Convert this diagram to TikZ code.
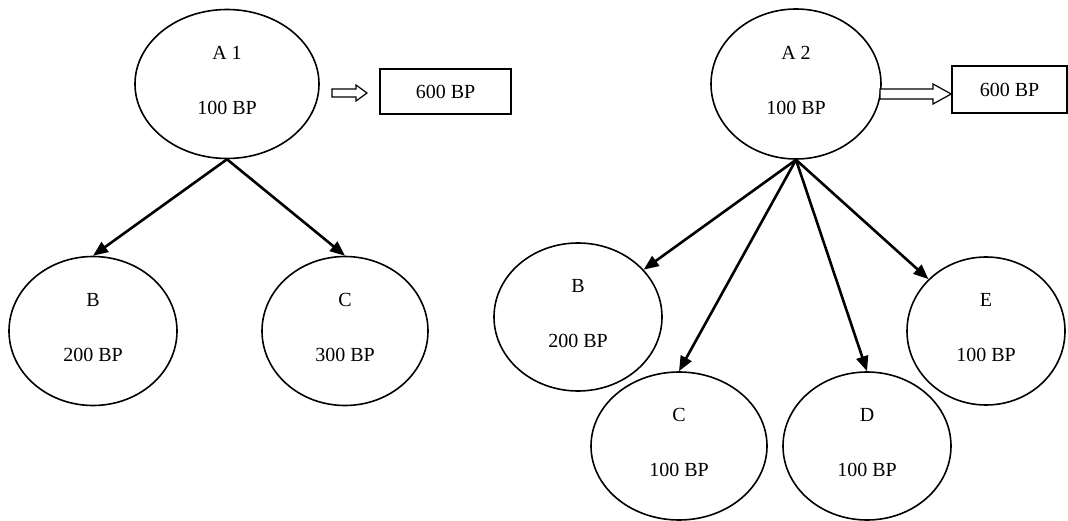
\documentclass[tikz,border=0pt]{standalone}
\usepackage{fontspec}
\setmainfont{Liberation Serif}
\usetikzlibrary{shapes.geometric,arrows.meta}
\newcommand\twolines[2]{#1\\[31pt]#2\rule[-7pt]{0pt}{1pt}}
\begin{document}
\begin{tikzpicture}[x=1pt,y=-1pt,
  ell/.style={draw, ellipse, fill=white, line width=1.6pt, inner sep=0pt, align=center, font=\fontsize{20}{24}\selectfont},
  valbox/.style={draw, rectangle, fill=white, line width=1.6pt, inner sep=0pt, font=\fontsize{20}{24}\selectfont},
  link/.style={line width=2.6pt, -{Triangle[length=15pt,width=12pt]}},
  hollow/.style={draw, fill=white, line width=1.2pt, line join=miter}]
\useasboundingbox (0,0) rectangle (1068,521);

% left tree
\node[ell, minimum width=184pt, minimum height=149pt] (A1) at (227,84) {\twolines{A 1}{100 BP}};
\node[ell, minimum width=168pt, minimum height=149pt] (B1) at (93,331) {\twolines{B}{200 BP}};
\node[ell, minimum width=166pt, minimum height=149pt] (C1) at (345,331) {\twolines{C}{300 BP}};
\node[valbox, minimum width=131pt, minimum height=45pt] (R1) at (445.5,91.5) {600 BP};

% right tree
\node[ell, minimum width=170pt, minimum height=150pt] (A2) at (796,84) {\twolines{A 2}{100 BP}};
\node[ell, minimum width=168pt, minimum height=148pt] (B2) at (578,317) {\twolines{B}{200 BP}};
\node[ell, minimum width=176pt, minimum height=148pt] (C2) at (679,446) {\twolines{C}{100 BP}};
\node[ell, minimum width=168pt, minimum height=148pt] (D2) at (867,446) {\twolines{D}{100 BP}};
\node[ell, minimum width=158pt, minimum height=148pt] (E2) at (986,331) {\twolines{E}{100 BP}};
\node[valbox, minimum width=115pt, minimum height=47pt] (R2) at (1009.5,89.5) {600 BP};

% connectors
\draw[link] (A1.south) -- (B1.north);
\draw[link] (A1.south) -- (C1.north);
\draw[link] (A2.south) -- (B2);
\draw[link] (A2.south) -- (C2.north);
\draw[link] (A2.south) -- (D2.north);
\draw[link] (A2.south) -- (E2);

% hollow arrows
\coordinate (h1tail) at (332,93);
\coordinate (h1tip) at (367,93);
\draw[hollow] (h1tail) ++(0,-4) -- ++(24,0) -- ++(0,-4) -- (h1tip) -- ++(-11,8) -- ++(0,-4) -- ++(-24,0) -- cycle;
\coordinate (h2tail) at (880,94);
\coordinate (h2tip) at (R2.west |- h2tail);
\draw[hollow] (h2tail) ++(0,-5) -- (933,89) -- (933,84) -- (h2tip) -- (933,104) -- (933,99) -- (880,99) -- cycle;
\end{tikzpicture}
\end{document}
